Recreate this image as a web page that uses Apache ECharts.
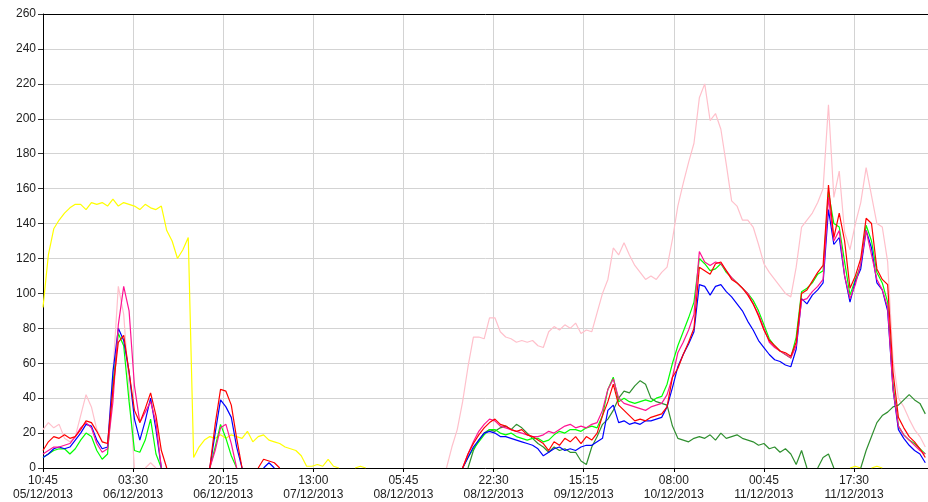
<!DOCTYPE html>
<html><head><meta charset="utf-8">
<script src="https://cdn.jsdelivr.net/npm/echarts@6/dist/echarts.min.js"></script>
<style>html,body{margin:0;padding:0;background:#fff}#c{width:928px;height:502px}</style>
</head><body><div id="c"></div>
<script>
const _ = null;
function gap(n){ return new Array(n).fill(null); }

// time axis: minutes since 05/12/2013 10:45, one sample every 60 minutes
const STEP_MIN = 60;
const X_MAX_MIN = 9870;
const TICK_MIN = 1005;
const xTickLabels = ['10:45\n05/12/2013','03:30\n06/12/2013','20:15\n06/12/2013','13:00\n07/12/2013','05:45\n08/12/2013','22:30\n08/12/2013','15:15\n09/12/2013','08:00\n10/12/2013','00:45\n11/12/2013','17:30\n11/12/2013'];
const Y_MAX = 260, Y_STEP = 20;

const yellow = [92,122,137,142,146,149,151,151,148,152, 151,152,150,154,150,152,151,150,148,151, 149,148,150,136,130,120,125,132,6,12, 16,18,17,19,17,19,18,17,21,15, 18,19,16,15,14,12,11,10,7,1, 1,2,1,5,1,0,_,_,0,1, 0, ...gap(89), 0,1,0,_,0,1,0, ...gap(8)];

const pink = [22,26,23,25,17,15,18,30,42,35, 22,15,14,55,104,88,45,0,_,0, 3,0, ...gap(53), 0,12,22,38,58,75,75,74,86,86, 78,75,74,72,73,72,73,70,69,78, 81,79,82,80,83,77,79,78,89,100, 108,126,122,129,122,116,112,108,110,108, 112,115,131,150,163,175,186,212,220,199, 203,194,174,153,150,142,142,138,128,117, 112,108,104,100,98,115,138,142,146,152, 160,208,155,170,135,125,140,152,172,156, 140,138,118,62,40,35,28,22,18,12];

const red = [10,15,18,17,19,17,18,22,27,26, 21,15,14,45,72,76,55,33,26,34, 43,30,10,0, ...gap(7), 0,25,45,44,36,17,0, _,_, 0,5,4,3,0, ...gap(33), 0,8, 14,19,23,26,28,25,24,22,21,22, 19,18,16,14,10,15,13,17,15,18, 14,18,16,20,30,38,48,36,33,30, 27,28,27,29,30,31,35,52,57,65, 72,80,115,113,111,117,118,113,108,106, 103,99,94,87,79,73,70,67,66,64, 72,100,102,107,112,116,162,132,146,130, 103,110,120,143,140,114,108,105,55,29, 23,18,15,11,6];

const blue = [6,8,11,12,11,12,16,20,25,24, 16,11,12,55,80,73,55,28,16,27, 40,22,0, ...gap(8), 0,20,39,35,29,12,0, ...gap(3), 0,3,0, ...gap(34), 0,6, 12,16,20,21,20,18,18,17,16,15, 14,13,11,7,9,11,12,10,11,10, 12,13,13,15,17,33,36,26,27,25, 26,25,27,27,28,29,35,46,58,65, 71,78,105,104,99,104,105,101,98,94, 90,84,79,73,69,65,62,61,59,58, 68,97,94,99,102,106,148,128,132,110, 95,107,114,136,126,106,102,90,45,22, 17,13,10,8,3];

const lime = [6,8,10,11,11,8,11,16,20,18, 10,5,8,48,77,70,38,10,9,16, 28,8,0, ...gap(8), 0,12,25,17,7,0, ...gap(41), 0,6, 11,15,19,22,22,20,19,20,18,17, 16,17,17,15,16,19,21,20,22,22, 21,23,24,23,30,45,52,38,40,38, 37,38,39,38,40,41,48,60,70,78, 86,95,120,117,113,114,117,112,109,106, 103,100,96,90,82,74,70,67,65,63, 75,101,103,106,111,113,158,140,138,118, 99,108,116,139,130,112,106,95,48,24, 19,16,14,11,8];

const deepPink = [8,10,12,12,13,14,18,23,26,23, 14,9,11,38,82,104,90,47,26,32, 38,26,0, ...gap(8), 0,10,23,25,14,0, ...gap(41), 0,8, 15,21,25,28,27,24,23,22,21,20, 19,18,18,19,21,20,22,24,25,23, 24,23,25,26,33,45,51,40,37,36, 35,34,33,35,36,37,42,52,66,72, 79,88,124,118,116,118,117,113,109,106, 103,100,94,88,80,72,69,67,65,63, 70,96,97,101,104,108,155,130,136,110, 97,105,117,136,122,108,102,92,45,24, 19,16,13,10,8];

const darkGreen = [...gap(79), 0, 10,16,20,22,21,23,24,22,25,23, 20,17,14,12,9,12,10,11,9,9, 4,2,12,18,25,28,33,40,44,43, 47,50,48,40,38,37,36,24,17,16, 15,17,18,17,19,16,20,17,18,19, 17,16,15,13,14,11,12,9,11,8, 2,10,0,_,0,6,8,0,_,_, _,_,0,10,18,26,30,32,35,36, 39,42,39,37,31];

function toData(vals){ return vals.map((v,i)=>[i*STEP_MIN, v==null ? '-' : v]); }

const seriesDefs = [
  {name:'pink', color:'#ffc0cb', vals:pink},
  {name:'yellow', color:'#ffff00', vals:yellow},
  {name:'darkgreen', color:'#2f8f2f', vals:darkGreen},
  {name:'lime', color:'#00ff00', vals:lime},
  {name:'blue', color:'#0000ff', vals:blue},
  {name:'deeppink', color:'#ff1493', vals:deepPink},
  {name:'red', color:'#ff0000', vals:red}
];

const chart = echarts.init(document.getElementById('c'), null, {renderer:'canvas'});
const font = 'Liberation Sans, Arial, sans-serif';
chart.setOption({
  animation:false,
  backgroundColor:'#fff',
  grid:{left:43, right:0, top:14, bottom:34, containLabel:false},
  xAxis:[{
    type:'value', min:0, max:X_MAX_MIN, interval:TICK_MIN, position:'bottom',
    axisLine:{show:true, lineStyle:{color:'#000', width:1}},
    axisTick:{show:true, length:4, lineStyle:{color:'#000'}},
    axisLabel:{color:'#222', fontSize:12, fontFamily:font, lineHeight:14, margin:6, showMaxLabel:false,
      formatter:function(v){ const k=v/TICK_MIN; return (Number.isInteger(k) && k<xTickLabels.length) ? xTickLabels[k] : ''; }},
    splitLine:{show:true, lineStyle:{color:'#d3d3d3', width:1}}
  },{
    type:'value', min:0, max:X_MAX_MIN, position:'top',
    axisLine:{show:true, lineStyle:{color:'#000', width:1}},
    axisTick:{show:false}, axisLabel:{show:false}, splitLine:{show:false}
  }],
  yAxis:{
    type:'value', min:0, max:Y_MAX, interval:Y_STEP,
    axisLine:{show:true, lineStyle:{color:'#000', width:1}},
    axisTick:{show:true, length:5, lineStyle:{color:'#333'}},
    axisLabel:{color:'#222', fontSize:12, fontFamily:font, margin:7},
    splitLine:{show:true, lineStyle:{color:'#d3d3d3', width:1}}
  },
  series: seriesDefs.map(s=>({
    name:s.name, type:'line', xAxisIndex:0, data:toData(s.vals),
    showSymbol:false, symbol:'none', silent:true, connectNulls:false,
    lineStyle:{color:s.color, width:1.2}, itemStyle:{color:s.color}
  }))
});
</script></body></html>
